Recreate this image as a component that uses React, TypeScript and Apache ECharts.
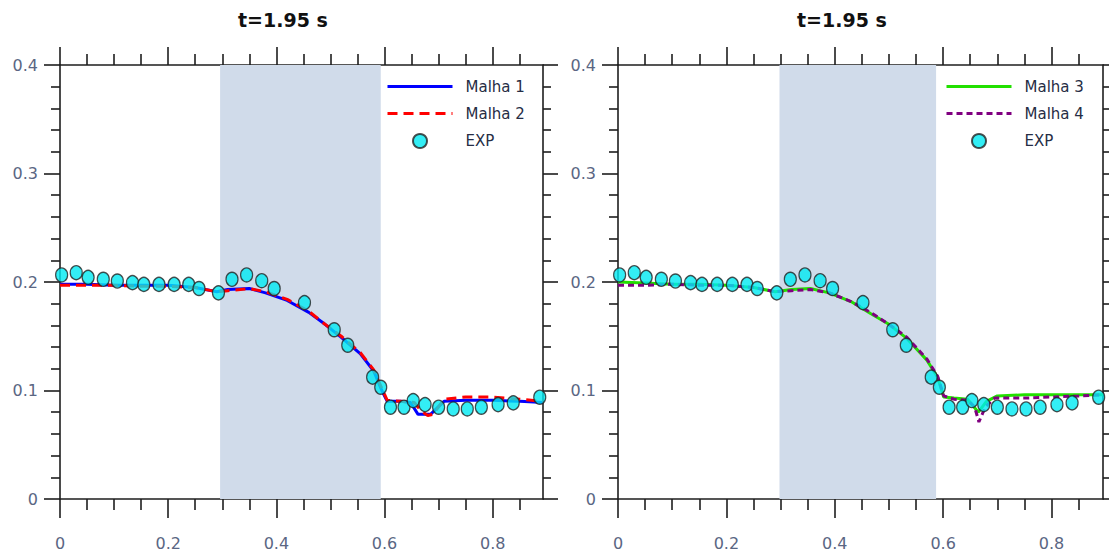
import React, { useEffect, useRef } from "react";
import * as echarts from "echarts";

// ---- data ----
const expX = [0.003, 0.03, 0.052, 0.08, 0.106, 0.134, 0.155, 0.183, 0.211, 0.238, 0.257, 0.293, 0.318, 0.345, 0.373, 0.396, 0.452, 0.507, 0.532, 0.578, 0.593, 0.611, 0.636, 0.653, 0.675, 0.7, 0.727, 0.753, 0.779, 0.81, 0.838, 0.887];
const expY = [0.2065, 0.2086, 0.2043, 0.2025, 0.2009, 0.1994, 0.1978, 0.1978, 0.1978, 0.1978, 0.194, 0.19, 0.2025, 0.2065, 0.2012, 0.194, 0.181, 0.156, 0.1417, 0.1123, 0.103, 0.0846, 0.0846, 0.0907, 0.087, 0.0846, 0.083, 0.083, 0.0846, 0.087, 0.0886, 0.0938];

const m1X = [0, 0.05, 0.1, 0.15, 0.2, 0.25, 0.29, 0.31, 0.35, 0.38, 0.42, 0.46, 0.49, 0.52, 0.555, 0.58, 0.595, 0.605, 0.63, 0.648, 0.662, 0.685, 0.71, 0.75, 0.8, 0.85, 0.893];
const m1Y = [0.198, 0.198, 0.197, 0.197, 0.197, 0.195, 0.191, 0.193, 0.194, 0.19, 0.183, 0.172, 0.161, 0.149, 0.134, 0.118, 0.1, 0.09, 0.09, 0.089, 0.078, 0.078, 0.09, 0.091, 0.091, 0.09, 0.089];

const m2X = [0, 0.05, 0.1, 0.15, 0.2, 0.25, 0.29, 0.31, 0.35, 0.38, 0.42, 0.46, 0.49, 0.52, 0.555, 0.58, 0.595, 0.605, 0.63, 0.655, 0.668, 0.68, 0.69, 0.71, 0.75, 0.8, 0.85, 0.893];
const m2Y = [0.197, 0.197, 0.197, 0.196, 0.196, 0.195, 0.191, 0.192, 0.194, 0.191, 0.184, 0.173, 0.161, 0.15, 0.135, 0.119, 0.102, 0.091, 0.09, 0.089, 0.081, 0.077, 0.078, 0.092, 0.094, 0.094, 0.092, 0.09];

const m3X = [0, 0.05, 0.1, 0.15, 0.2, 0.25, 0.29, 0.32, 0.355, 0.39, 0.43, 0.466, 0.5, 0.533, 0.57, 0.59, 0.601, 0.62, 0.645, 0.655, 0.665, 0.68, 0.7, 0.75, 0.8, 0.85, 0.895];
const m3Y = [0.2, 0.199, 0.198, 0.198, 0.197, 0.195, 0.191, 0.193, 0.194, 0.19, 0.182, 0.171, 0.161, 0.148, 0.128, 0.112, 0.094, 0.093, 0.092, 0.086, 0.08, 0.09, 0.095, 0.096, 0.096, 0.096, 0.096];

const m4X = [0, 0.05, 0.1, 0.15, 0.2, 0.25, 0.29, 0.32, 0.355, 0.39, 0.43, 0.466, 0.5, 0.533, 0.57, 0.59, 0.601, 0.62, 0.645, 0.658, 0.666, 0.678, 0.695, 0.75, 0.8, 0.85, 0.895];
const m4Y = [0.197, 0.197, 0.198, 0.197, 0.197, 0.195, 0.191, 0.192, 0.193, 0.19, 0.182, 0.172, 0.161, 0.149, 0.129, 0.113, 0.095, 0.092, 0.091, 0.085, 0.071, 0.085, 0.093, 0.093, 0.094, 0.095, 0.096];

const xMajor = [0, 0.2, 0.4, 0.6, 0.8];
const xMinor = [0.05, 0.1, 0.15, 0.25, 0.3, 0.35, 0.45, 0.5, 0.55, 0.65, 0.7, 0.75, 0.85];
const shadeLeft = [0.296, 0.593];
const shadeRight = [0.298, 0.587];
const titleText = "t=1.95 s";
const legendLeft = ["Malha 1", "Malha 2", "EXP"];
const legendRight = ["Malha 3", "Malha 4", "EXP"];

const FONT = "DejaVu Sans";
const AXIS_COLOR = "#1e1e1e";
const LABEL_COLOR = "#5a6683";
const CLEAR = "rgba(0,0,0,0)";

const zip = (xs: number[], ys: number[]) => xs.map((x, i) => [x, ys[i]]);

function xAxes(gridIndex: number, max: number) {
  const base = {
    type: "value",
    gridIndex,
    min: 0,
    max,
    splitLine: { show: false },
  };
  const line = { show: true, onZero: false, lineStyle: { color: AXIS_COLOR, width: 1.6 } };
  return [
    {
      ...base,
      position: "bottom",
      axisLine: line,
      axisTick: { show: true, inside: false, length: 19, customValues: xMajor, lineStyle: { color: AXIS_COLOR, width: 1.6 } },
      axisLabel: { show: true, customValues: xMajor, margin: 36, fontSize: 16, fontFamily: FONT, color: LABEL_COLOR },
    },
    {
      ...base,
      position: "bottom",
      axisLine: { show: false, onZero: false },
      axisTick: { show: true, inside: false, length: 11, customValues: xMinor, lineStyle: { color: AXIS_COLOR, width: 1.6 } },
      axisLabel: { show: false },
    },
    {
      ...base,
      position: "top",
      axisLine: line,
      axisTick: { show: true, inside: false, length: 18, customValues: xMajor, lineStyle: { color: AXIS_COLOR, width: 1.6 } },
      axisLabel: { show: false },
    },
    {
      ...base,
      position: "top",
      axisLine: { show: false, onZero: false },
      axisTick: { show: true, inside: false, length: 11, customValues: xMinor, lineStyle: { color: AXIS_COLOR, width: 1.6 } },
      axisLabel: { show: false },
    },
  ];
}

function yAxes(gridIndex: number) {
  const base = {
    type: "value",
    gridIndex,
    min: 0,
    max: 0.4,
    interval: 0.1,
    splitLine: { show: false },
    minorSplitLine: { show: false },
    axisLine: { show: true, onZero: false, lineStyle: { color: AXIS_COLOR, width: 1.6 } },
  };
  return [
    {
      ...base,
      position: "left",
      axisTick: { show: true, inside: false, length: 16, lineStyle: { color: AXIS_COLOR, width: 1.6 } },
      minorTick: { show: true, splitNumber: 5, length: 9, lineStyle: { color: AXIS_COLOR, width: 1.6 } },
      axisLabel: { show: true, margin: 22, fontSize: 16, fontFamily: FONT, color: LABEL_COLOR },
    },
    {
      ...base,
      position: "right",
      axisTick: { show: true, inside: false, length: 15, lineStyle: { color: AXIS_COLOR, width: 1.6 } },
      minorTick: { show: true, splitNumber: 5, length: 8, lineStyle: { color: AXIS_COLOR, width: 1.6 } },
      axisLabel: { show: false },
    },
  ];
}

function lineSeries(name: string, xs: number[], ys: number[], color: string, type: any, xi: number, yi: number, extra: any = {}) {
  return {
    name,
    type: "line",
    xAxisIndex: xi,
    yAxisIndex: yi,
    data: zip(xs, ys),
    showSymbol: false,
    symbol: "circle",
    lineStyle: { color, width: 3, type },
    itemStyle: { color: CLEAR, borderColor: CLEAR, borderWidth: 0 },
    z: 3,
    ...extra,
  };
}

function expSeries(xi: number, yi: number) {
  return {
    name: "EXP",
    type: "scatter",
    xAxisIndex: xi,
    yAxisIndex: yi,
    data: zip(expX, expY),
    symbol: "circle",
    symbolSize: [12, 14],
    itemStyle: { color: "#00eaf2", borderColor: "#222", borderWidth: 1.3 },
    z: 5,
  };
}

function legend(left: number, names: string[]) {
  return {
    left,
    top: 79,
    orient: "vertical",
    padding: 0,
    itemWidth: 65,
    itemHeight: 14,
    itemGap: 12,
    data: names,
    lineStyle: { width: 3 },
    textStyle: { fontSize: 15, fontFamily: FONT, color: "#262d45", padding: [0, 0, 0, 8] },
  };
}

export default function App() {
  const ref = useRef<HTMLDivElement>(null);
  useEffect(() => {
    if (!ref.current) return;
    const chart = echarts.init(ref.current, null, { renderer: "svg" });
    const titleStyle = { fontSize: 19, fontWeight: "bold", color: "#111", fontFamily: FONT };
    const option: any = {
      animation: false,
      backgroundColor: "#ffffff",
      title: [
        { text: titleText, left: 238, top: 10, padding: 0, textStyle: titleStyle },
        { text: titleText, left: 797, top: 10, padding: 0, textStyle: titleStyle },
      ],
      legend: [legend(386, legendLeft), legend(945, legendRight)],
      grid: [
        { left: 60, top: 65, width: 483, height: 434 },
        { left: 618, top: 65, width: 485, height: 434 },
      ],
      xAxis: [...xAxes(0, 0.893), ...xAxes(1, 0.895)],
      yAxis: [...yAxes(0), ...yAxes(1)],
      series: [
        lineSeries("Malha 1", m1X, m1Y, "#0000ff", "solid", 0, 0, {
          markArea: {
            silent: true,
            itemStyle: { color: "#d0dbea" },
            data: [[{ xAxis: shadeLeft[0] }, { xAxis: shadeLeft[1] }]],
          },
        }),
        lineSeries("Malha 2", m2X, m2Y, "#ff0000", [10, 6], 0, 0),
        expSeries(0, 0),
        lineSeries("Malha 3", m3X, m3Y, "#22e000", "solid", 4, 2, {
          markArea: {
            silent: true,
            itemStyle: { color: "#d0dbea" },
            data: [[{ xAxis: shadeRight[0] }, { xAxis: shadeRight[1] }]],
          },
        }),
        lineSeries("Malha 4", m4X, m4Y, "#800080", [6, 4], 4, 2),
        expSeries(4, 2),
      ],
    };
    chart.setOption(option);
    return () => chart.dispose();
  }, []);
  return <div ref={ref} style={{ position: "absolute", left: 0, top: 0, width: 1109, height: 553 }} />;
}
